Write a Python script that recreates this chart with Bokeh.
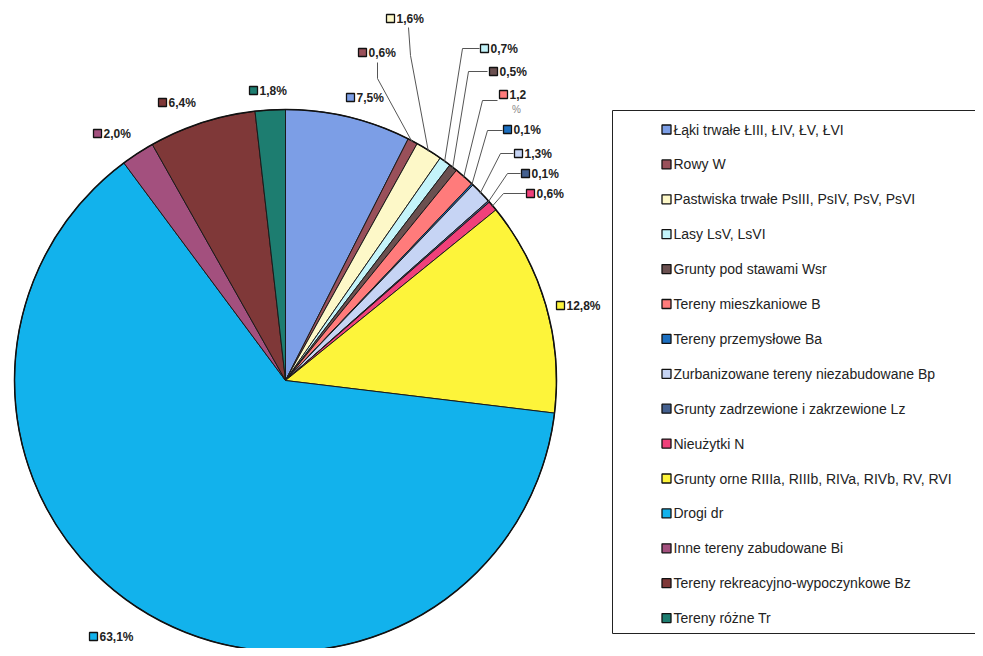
import math
from bokeh.plotting import figure
from bokeh.models import Range1d, ColumnDataSource
from bokeh.embed import file_html
from bokeh.resources import INLINE
from bokeh.core.properties import value

# ---------------- data ----------------
categories = [
    "Łąki trwałe ŁIII, ŁIV, ŁV, ŁVI",
    "Rowy W",
    "Pastwiska trwałe PsIII, PsIV, PsV, PsVI",
    "Lasy LsV, LsVI",
    "Grunty pod stawami Wsr",
    "Tereny mieszkaniowe B",
    "Tereny przemysłowe Ba",
    "Zurbanizowane tereny niezabudowane Bp",
    "Grunty zadrzewione i zakrzewione Lz",
    "Nieużytki N",
    "Grunty orne RIIIa, RIIIb, RIVa, RIVb, RV, RVI",
    "Drogi dr",
    "Inne tereny zabudowane Bi",
    "Tereny rekreacyjno-wypoczynkowe Bz",
    "Tereny różne Tr",
]
shares = [7.5, 0.6, 1.6, 0.7, 0.5, 1.2, 0.1, 1.3, 0.1, 0.6, 12.8, 63.1, 2.0, 6.4, 1.8]
label_texts = ["7,5%", "0,6%", "1,6%", "0,7%", "0,5%", "1,2", "0,1%", "1,3%",
               "0,1%", "0,6%", "12,8%", "63,1%", "2,0%", "6,4%", "1,8%"]
colors = ["#7c9ee6", "#99505a", "#fdf8c8", "#c4f4fa", "#6b5050", "#ff7b7b",
          "#1c6fc0", "#c6d4f4", "#44608f", "#f0407a", "#fdf43a", "#12b2ec",
          "#a3507e", "#7f3838", "#1d7d70"]

# ---------------- layout (screenshot pixel coordinates, y downward) ----------------
W, H = 975, 648
CX, CY, R = 285, 380, 271
label_pos = [(350, 97), (362, 52), (390, 18), (484, 48), (493, 71), (503, 94),
             (507, 129), (518, 153), (525, 173), (530, 193), (560, 305),
             (93, 636), (97, 133), (162, 102), (253, 90)]
# leader line: start point, elbow point
leaders = {
    1: ((377, 62), (377, 78)),
    2: ((408, 27), (410, 55)),
    3: ((479, 48), (462, 48)),
    4: ((487, 71), (468, 71)),
    5: ((497, 100), (482, 100)),
    6: ((502, 130), (487, 130)),
    7: ((513, 153), (500, 153)),
    8: ((520, 173), (507, 173)),
    9: ((525, 193), (503, 193)),
}
LEG_X, LEG_Y0, LEG_DY = 666, 129, 34.9

FONT = value("Liberation Sans")

p = figure(width=W, height=H, output_backend="svg", toolbar_location=None,
           x_range=Range1d(0, W), y_range=Range1d(-H, 0),
           x_axis_type=None, y_axis_type=None, min_border=0)
p.grid.visible = False
p.outline_line_color = None
p.background_fill_color = "white"
p.border_fill_color = "white"

# ---------------- pie ----------------
total = sum(shares)
starts, ends, mids = [], [], []
cum = 0.0
for s in shares:
    f0 = cum / total
    cum += s
    f1 = cum / total
    # clockwise from 12 o'clock
    starts.append(math.pi / 2 - 2 * math.pi * f1)
    ends.append(math.pi / 2 - 2 * math.pi * f0)
    mids.append(math.pi / 2 - 2 * math.pi * (f0 + f1) / 2)

src = ColumnDataSource(dict(start=starts, end=ends, color=colors, cat=categories))
p.wedge(x=CX, y=-CY, radius=R, start_angle="start", end_angle="end",
        fill_color="color", line_color="#1a1a1a", line_width=1, source=src)
p.circle(x=CX, y=-CY, radius=R, fill_color=None, line_color="#111111", line_width=1.5)

# ---------------- leader lines ----------------
lx, ly = [], []
for i, (st, el) in leaders.items():
    ex = CX + (R - 1) * math.cos(mids[i])
    ey = -CY + (R - 1) * math.sin(mids[i])
    lx.append([st[0], el[0], ex])
    ly.append([-st[1], -el[1], ey])
p.multi_line(xs=lx, ys=ly, line_color="#555555", line_width=1)

# ---------------- data labels ----------------
mx = [q[0] for q in label_pos]
my = [-q[1] for q in label_pos]
p.scatter(x=mx, y=my, marker="square", size=8, fill_color=colors,
          line_color="#111111", line_width=1.3)
p.text(x=[v + 6 for v in mx], y=my, text=label_texts, text_baseline="middle",
       text_align="left", text_font=FONT, text_font_size="12px",
       text_font_style="bold", text_color="#222222")
p.text(x=[mx[5] + 13], y=[my[5] - 15], text=["%"], text_baseline="middle",
       text_align="center", text_font=FONT, text_font_size="10px",
       text_color="#888888")

# ---------------- legend ----------------
p.quad(left=[612], right=[1000], top=[-110], bottom=[-633],
       fill_color=None, line_color="#222222", line_width=1)
leg_y = [-(LEG_Y0 + LEG_DY * i) for i in range(len(categories))]
p.scatter(x=[LEG_X] * len(categories), y=leg_y, marker="square", size=9,
          fill_color=colors, line_color="#111111", line_width=1.3)
p.text(x=[LEG_X + 7] * len(categories), y=leg_y, text=categories,
       text_baseline="middle", text_align="left", text_font=FONT,
       text_font_size="14px", text_color="#222222")

open("out.html", "w").write(file_html(p, INLINE))
